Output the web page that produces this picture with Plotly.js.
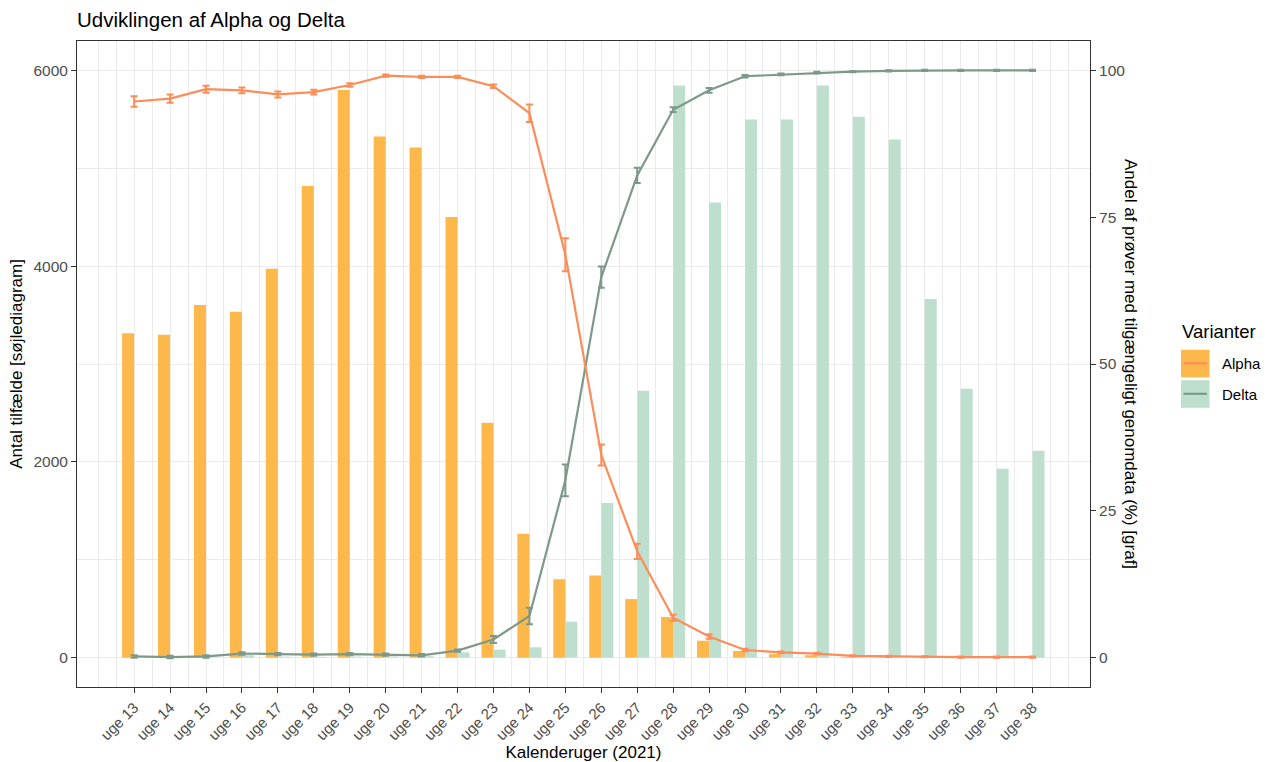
<!DOCTYPE html>
<html>
<head>
<meta charset="utf-8">
<script src="https://cdn.plot.ly/plotly-3.0.1.min.js"></script>
<style>html,body{margin:0;padding:0;background:#fff;}#chart{width:1270px;height:762px;}</style>
</head>
<body>
<div id="chart"></div>
<script>
// ---- data ----
const weeks = [13,14,15,16,17,18,19,20,21,22,23,24,25,26,27,28,29,30,31,32,33,34,35,36,37,38];
const weekLabels = ["uge 13","uge 14","uge 15","uge 16","uge 17","uge 18","uge 19","uge 20","uge 21","uge 22","uge 23","uge 24","uge 25","uge 26","uge 27","uge 28","uge 29","uge 30","uge 31","uge 32","uge 33","uge 34","uge 35","uge 36","uge 37","uge 38"];
const alphaCases = [3315,3298,3604,3533,3972,4819,5800,5324,5212,4503,2400,1265,800,840,598,416,173,68,36,25,8,5,3,3,2,2];
const deltaCases = [2,3,3,25,10,8,10,12,15,54,82,105,367,1580,2726,5845,4651,5498,5498,5845,5525,5294,3665,2746,1930,2113];
const alphaPct = [94.7,95.2,96.8,96.6,95.9,96.3,97.5,99.1,98.9,98.9,97.3,92.7,68.6,34.5,18.1,6.8,3.6,1.3,0.9,0.7,0.3,0.2,0.15,0.1,0.1,0.1];
const alphaErr = [0.9,0.7,0.6,0.5,0.5,0.4,0.3,0.2,0.2,0.2,0.3,1.5,2.8,1.8,1.3,0.5,0.4,0.2,0.15,0.15,0.1,0.1,0.1,0.1,0.1,0.1];
const deltaPct = [0.2,0.1,0.2,0.7,0.6,0.5,0.6,0.5,0.4,1.2,3.1,7.1,30.2,64.8,82.1,93.3,96.6,99.0,99.3,99.6,99.8,99.9,100,100,100,100];
const deltaErr = [0.2,0.2,0.2,0.2,0.2,0.2,0.2,0.2,0.2,0.2,0.6,1.4,2.7,1.8,1.3,0.4,0.4,0.2,0.15,0.15,0.1,0.1,0.1,0.1,0.1,0.1];
const leftTicks = [0,2000,4000,6000];
const rightTicks = [0,25,50,75,100];

// ---- styles ----
const FONT = "Liberation Sans, Arial, sans-serif";
const cAlphaBar = "#FDB84B";
const cDeltaBar = "#BEDFCE";
const cAlphaLine = "#FC8D59";
const cDeltaLine = "#7C998A";
const grid = "#EBEBEB";

// half-week grid lines (minor) incl. one week beyond each end
const minorGrid = [];
for (let v = weeks[0] - 1; v <= weeks[weeks.length - 1] + 1 + 1e-9; v += 0.5) {
  if (!weeks.includes(v)) minorGrid.push(v);
}

const traces = [
  {type:'bar', name:'Alpha', x:weeks, y:alphaCases, marker:{color:cAlphaBar}, showlegend:false, hoverinfo:'skip'},
  {type:'bar', name:'Delta', x:weeks, y:deltaCases, marker:{color:cDeltaBar}, showlegend:false, hoverinfo:'skip'},
  {type:'scatter', mode:'lines', name:'Delta', x:weeks, y:deltaPct, yaxis:'y2',
   line:{color:cDeltaLine, width:2.2},
   error_y:{type:'data', array:deltaErr, visible:true, color:cDeltaLine, thickness:2, width:3.5},
   showlegend:false},
  {type:'scatter', mode:'lines', name:'Alpha', x:weeks, y:alphaPct, yaxis:'y2',
   line:{color:cAlphaLine, width:2.2},
   error_y:{type:'data', array:alphaErr, visible:true, color:cAlphaLine, thickness:2, width:3.5},
   showlegend:false}
];

// legend placement helpers (paper coords)
const L = 77.3, R = 1090, T = 40.7, B = 686.7;
const px = v => (v - L) / (R - L);
const py = v => (B - v) / (B - T);

const layout = {
  width:1270, height:762,
  margin:{l:77, r:180, t:41, b:75, pad:0},
  paper_bgcolor:'#ffffff', plot_bgcolor:'#ffffff',
  font:{family:FONT, color:'#000000'},
  barmode:'group', bargap:0.33, bargroupgap:0,
  showlegend:false,
  title:{text:'Udviklingen af Alpha og Delta', x:0, xref:'paper', xanchor:'left',
         y:1 - 20/762, yref:'container', yanchor:'middle',
         font:{family:FONT, size:20.5, color:'#000000'}},
  xaxis:{
    range:[11.41, 39.6], tickmode:'array', tickvals:weeks, ticktext:weekLabels,
    tickangle:-45, tickfont:{family:FONT, size:15, color:'#4D4D4D'},
    ticks:'outside', ticklen:5, tickwidth:1, tickcolor:'#333333',
    showgrid:true, gridcolor:grid, gridwidth:1,
    minor:{tickmode:'array', tickvals:minorGrid, showgrid:true, gridcolor:grid, gridwidth:1, ticks:''},
    showline:true, mirror:true, linecolor:'#333333', linewidth:1,
    zeroline:false,
    title:{text:'Kalenderuger (2021)', font:{family:FONT, size:17, color:'#000000'}, standoff:2}
  },
  yaxis:{
    range:[-300, 6300], tickmode:'array', tickvals:leftTicks,
    tickfont:{family:FONT, size:15.5, color:'#4D4D4D'},
    ticks:'outside', ticklen:5, tickwidth:1, tickcolor:'#333333',
    showgrid:true, gridcolor:grid, gridwidth:1,
    minor:{dtick:1000, tick0:0, showgrid:true, gridcolor:grid, gridwidth:1, ticks:''},
    showline:true, mirror:true, linecolor:'#333333', linewidth:1,
    zeroline:false,
    title:{text:'Antal tilfælde [søjlediagram]', font:{family:FONT, size:17, color:'#000000'}, standoff:6}
  },
  yaxis2:{
    overlaying:'y', side:'right', range:[-5, 105], tickmode:'array', tickvals:rightTicks,
    tickfont:{family:FONT, size:15.5, color:'#4D4D4D'},
    ticks:'outside', ticklen:5, tickwidth:1, tickcolor:'#333333',
    showgrid:false, zeroline:false, showline:true, linecolor:'#333333', linewidth:1
  },
  annotations:[
    {text:'Andel af prøver med tilgængeligt genomdata (%) [graf]', xref:'paper', yref:'paper',
     x:px(1131), y:0.5, xanchor:'center', yanchor:'middle', textangle:90, showarrow:false,
     font:{family:FONT, size:17, color:'#000000'}},
    {text:'Varianter', xref:'paper', yref:'paper', x:px(1180), y:py(331.5), xanchor:'left', yanchor:'middle',
     showarrow:false, font:{family:FONT, size:18.5, color:'#000000'}},
    {text:'Alpha', xref:'paper', yref:'paper', x:px(1220), y:py(363), xanchor:'left', yanchor:'middle',
     showarrow:false, font:{family:FONT, size:15, color:'#000000'}},
    {text:'Delta', xref:'paper', yref:'paper', x:px(1220), y:py(394), xanchor:'left', yanchor:'middle',
     showarrow:false, font:{family:FONT, size:15, color:'#000000'}}
  ],
  shapes:[
    {type:'rect', xref:'paper', yref:'paper', x0:px(1181), x1:px(1209.5), y0:py(377), y1:py(349.5), fillcolor:cAlphaBar, line:{width:0}},
    {type:'rect', xref:'paper', yref:'paper', x0:px(1181), x1:px(1209.5), y0:py(407.5), y1:py(380), fillcolor:cDeltaBar, line:{width:0}},
    {type:'line', xref:'paper', yref:'paper', x0:px(1183.5), x1:px(1207), y0:py(363), y1:py(363), line:{color:cAlphaLine, width:2.2}},
    {type:'line', xref:'paper', yref:'paper', x0:px(1183.5), x1:px(1207), y0:py(393.5), y1:py(393.5), line:{color:cDeltaLine, width:2.2}}
  ]
};

Plotly.newPlot('chart', traces, layout, {displayModeBar:false, staticPlot:true});
</script>
</body>
</html>
